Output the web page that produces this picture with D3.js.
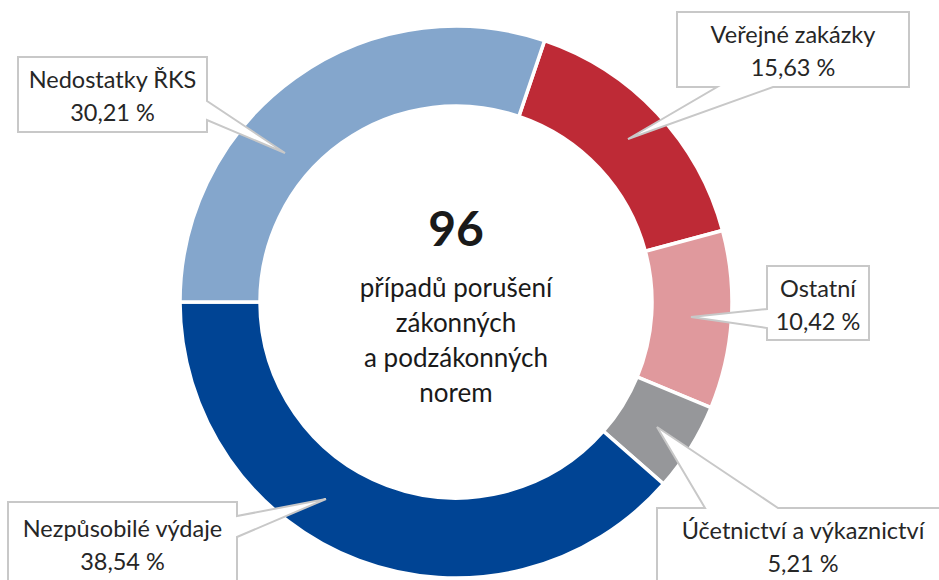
<!DOCTYPE html>
<html>
<head>
<meta charset="utf-8">
<script src="https://cdn.jsdelivr.net/npm/d3@7"></script>
<style>
  body { margin: 0; background: #fff; }
  svg { display: block; font-family: Lato, "Noto Sans", sans-serif; }
</style>
</head>
<body>
<svg id="chart" width="939" height="580"></svg>
<script>
// data, clockwise from the red slice
const categories = ["Veřejné zakázky", "Ostatní", "Účetnictví a výkaznictví", "Nezpůsobilé výdaje", "Nedostatky ŘKS"];
const shares = [15.63, 10.42, 5.21, 38.54, 30.21];
const colors = ["#be2a36", "#e0999d", "#96979a", "#004494", "#84a6cc"];
const totalCases = 96;
const centerLines = ["případů porušení", "zákonných", "a podzákonných", "norem"];

const svg = d3.select("#chart");
const cx = 456, cy = 302;
const outerR = 276, innerR = 196;

const startDeg = 18.72;
const pie = d3.pie()
  .sort(null)
  .startAngle(startDeg * Math.PI / 180)
  .endAngle(startDeg * Math.PI / 180 + 2 * Math.PI);

const arc = d3.arc().innerRadius(innerR).outerRadius(outerR);

const g = svg.append("g").attr("transform", `translate(${cx},${cy})`);

g.selectAll("path.slice")
  .data(pie(shares))
  .enter().append("path")
  .attr("class", "slice")
  .attr("d", arc)
  .attr("fill", (d, i) => colors[i])
  .attr("stroke", "#fff")
  .attr("stroke-width", 3.5);

// center text
g.append("text")
  .attr("text-anchor", "middle")
  .attr("y", -56)
  .attr("font-size", 48)
  .attr("font-weight", "bold")
  .attr("fill", "#1a1a1a")
  .text(totalCases);

g.selectAll("text.center")
  .data(centerLines)
  .enter().append("text")
  .attr("class", "center")
  .attr("text-anchor", "middle")
  .attr("y", (d, i) => -5 + i * 35)
  .attr("font-size", 26)
  .attr("fill", "#1a1a1a")
  .text(d => d);

// callout boxes (layout only)
const callouts = [
  { box: [677, 12, 232, 75], side: "bottom", base: [717, 773], tip: [628, 139] },
  { box: [767, 266, 102, 74], side: "left", base: [309, 328], tip: [691, 317] },
  { box: [657, 508, 293, 90], side: "top", base: [705, 778], tip: [657, 427], tx: 803 },
  { box: [8, 502, 229, 90], side: "right", base: [516, 537], tip: [326, 499], dy: 4 },
  { box: [18, 57, 189, 75], side: "right", base: [101, 120], tip: [285, 153] }
];

function calloutPath(c) {
  const [x, y, w, h] = c.box;
  const [a, b] = c.base;
  const [tx, ty] = c.tip;
  const p = d3.path();
  p.moveTo(x, y);
  if (c.side === "top") { p.lineTo(a, y); p.lineTo(tx, ty); p.lineTo(b, y); }
  p.lineTo(x + w, y);
  if (c.side === "right") { p.lineTo(x + w, a); p.lineTo(tx, ty); p.lineTo(x + w, b); }
  p.lineTo(x + w, y + h);
  if (c.side === "bottom") { p.lineTo(b, y + h); p.lineTo(tx, ty); p.lineTo(a, y + h); }
  p.lineTo(x, y + h);
  if (c.side === "left") { p.lineTo(x, b); p.lineTo(tx, ty); p.lineTo(x, a); }
  p.closePath();
  return p.toString();
}

const fmt = v => d3.format(".2f")(v).replace(".", ",") + " %";

const labels = svg.selectAll("g.callout")
  .data(callouts)
  .enter().append("g")
  .attr("class", "callout");

labels.append("path")
  .attr("d", calloutPath)
  .attr("fill", "#fff")
  .attr("stroke", "#c8c8c8")
  .attr("stroke-width", 2)
  .attr("stroke-linejoin", "miter");

labels.each(function(c, i) {
  const [x, y, w] = c.box;
  const mx = c.tx || x + w / 2;
  const off = c.dy || 0;
  const t = d3.select(this);
  t.append("text")
    .attr("x", mx).attr("y", y + 31 + off)
    .attr("text-anchor", "middle")
    .attr("font-size", 23.5)
    .attr("fill", "#262626")
    .text(categories[i]);
  t.append("text")
    .attr("x", mx).attr("y", y + 64 + off)
    .attr("text-anchor", "middle")
    .attr("font-size", 23.5)
    .attr("fill", "#262626")
    .text(fmt(shares[i]));
});
</script>
</body>
</html>
